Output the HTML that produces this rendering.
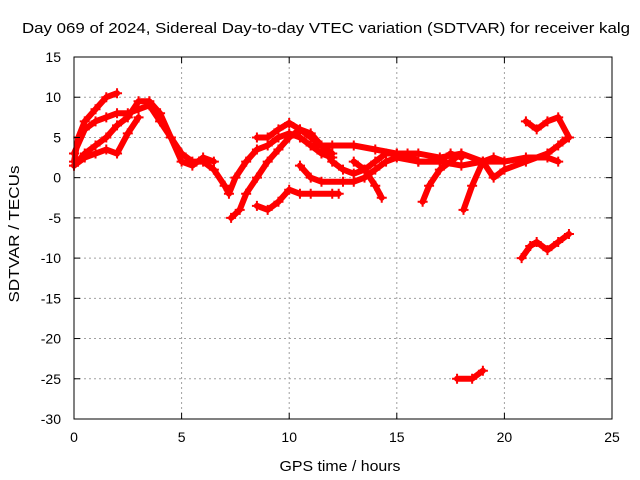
<!DOCTYPE html>
<html><head><meta charset="utf-8"><style>
body{margin:0;background:#fff}
svg{display:block;font-family:"Liberation Sans",sans-serif}
</style></head><body>
<svg id="chart" width="640" height="480">
<text x="326" y="33" text-anchor="middle" font-size="15" textLength="608" lengthAdjust="spacingAndGlyphs">Day 069 of 2024, Sidereal Day-to-day VTEC variation (SDTVAR) for receiver kalg</text>
<text x="340" y="471" text-anchor="middle" font-size="15" textLength="121" lengthAdjust="spacingAndGlyphs">GPS time / hours</text>
<text transform="translate(19,234) rotate(-90)" text-anchor="middle" font-size="15" textLength="137" lengthAdjust="spacingAndGlyphs">SDTVAR / TECUs</text>
<g id="grid"></g><g id="series"></g><g id="axes"></g>
</svg>
<script>
const xTicks=[0,5,10,15,20,25];
const yTicks=[15,10,5,0,-5,-10,-15,-20,-25,-30];
const traceA=[[0,2],[0.2,5],[0.5,7],[1,8.5],[1.5,10],[2,10.5]];
const traceB=[[0,1.5],[0.5,3],[1,4],[1.5,5],[2,6.5],[2.5,7.5],[3,9.5],[3.5,9.5],[4,8],[4.5,5],[5,3],[5.5,2],[6,2],[6.5,1],[7,-1],[7.2,-2],[7.5,0],[8,2],[8.5,3.5],[9,4],[9.5,5],[10,5.5],[10.5,5],[11,4],[11.5,3],[12,2.5]];
const traceC=[[0,3],[0.5,6],[1,7],[1.5,7.5],[2,8],[2.5,8],[3,8.5],[3.5,9],[4,7],[4.5,5],[5,2],[5.5,1.5],[6,2.5],[6.5,2]];
const traceC2=[[0,1.5],[0.5,2.5],[1,3],[1.5,3.5],[2,3],[2.5,5.5],[3,7.5]];
const traceD=[[7.3,-5],[7.7,-4],[8,-2],[8.5,0],[9,2],[9.5,3.5],[10,5],[10.5,6],[11,5],[11.5,4],[12,3]];
const traceE=[[8.5,-3.5],[9,-4],[9.5,-3],[10,-1.5],[10.5,-2],[11,-2],[12,-2],[12.3,-2]];
const traceF=[[8.5,5],[9,5],[9.5,6],[10,6.8],[10.5,6],[11,5.5],[11.5,4],[12,2],[12.5,1],[13,0.5],[13.5,1],[14,2],[14.5,3],[15,3],[15.5,3],[16,2],[17,2],[17.5,3],[18,2.5]];
const traceG=[[10.5,1.5],[11,0],[11.5,-0.5],[12.5,-0.5],[13,-0.5],[13.5,0],[14,1],[14.5,2],[15,2.5],[16,2],[17,2],[18,1.5],[19,2],[20,2],[21,2.5],[22,2.5],[22.5,2]];
const traceH=[[11,4],[12,4],[13,4],[14,3.5],[15,3],[16,3],[17,2.5],[18,3],[19,2],[19.5,0],[20,1],[21,2],[22,3],[22.5,4],[23,5]];
const traceI=[[13,2],[13.5,1],[14,-1],[14.3,-2.5]];
const traceJ=[[16.2,-3],[16.5,-1],[17,1],[17.5,2],[18,3]];
const traceK=[[18.1,-4],[18.5,-1],[19,2],[19.5,2.5],[20,2]];
const traceL=[[21,7],[21.5,6],[22,7],[22.5,7.5],[23,5],[22.7,4.5]];
const traceM=[[20.8,-10],[21.2,-8.5],[21.5,-8],[22,-9],[22.5,-8],[23,-7]];
const traceN=[[17.8,-25],[18.5,-25],[19,-24]];
const traces=[traceA,traceB,traceC,traceC2,traceD,traceE,traceF,traceG,traceH,traceI,traceJ,traceK,traceL,traceM,traceN];
const L=74,R=612,T=57,B=419;
const X=v=>L+(v-0)/(25-0)*(R-L);
const Y=v=>T+(15-v)/(15+30)*(B-T);
const NS="http://www.w3.org/2000/svg";
function mk(tag,p,attrs){const e=document.createElementNS(NS,tag);for(const k in attrs)e.setAttribute(k,attrs[k]);p.appendChild(e);return e;}
const grid=document.getElementById('grid'),axes=document.getElementById('axes'),ser=document.getElementById('series');
xTicks.forEach(t=>{
 if(t>0&&t<25){const g=mk('line',grid,{x1:X(t),x2:X(t),y1:T,y2:B,stroke:'#a0a0a0','stroke-dasharray':'2,3'});
 
 }
 mk('line',axes,{x1:X(t),x2:X(t),y1:B,y2:B-6,stroke:'#000'});
 mk('line',axes,{x1:X(t),x2:X(t),y1:T,y2:T+6,stroke:'#000'});
 const tx=mk('text',axes,{x:X(t),y:B+23,'text-anchor':'middle','font-size':14});tx.textContent=t;
 
 
});
yTicks.forEach(t=>{
 if(t<15&&t>-30){const g=mk('line',grid,{x1:L,x2:R,y1:Y(t),y2:Y(t),stroke:'#a0a0a0','stroke-dasharray':'2,3'});
 
 }
 mk('line',axes,{x1:L,x2:L+6,y1:Y(t),y2:Y(t),stroke:'#000'});
 mk('line',axes,{x1:R,x2:R-6,y1:Y(t),y2:Y(t),stroke:'#000'});
 const tx=mk('text',axes,{x:L-13,y:Y(t)+5,'text-anchor':'end','font-size':14});tx.textContent=t;
 
 
});
const fr=mk('rect',axes,{x:L,y:T,width:R-L,height:B-T,fill:'none',stroke:'#000'});


traces.forEach(tr=>{
 const pl=mk('polyline',ser,{points:tr.map(p=>X(p[0])+','+Y(p[1])).join(' '),fill:'none',stroke:'#ff0000','stroke-width':6,'stroke-linejoin':'round','stroke-linecap':'round'});
 
 
 tr.forEach(p=>{const x=X(p[0]),y=Y(p[1]);
  mk('path',ser,{d:`M${x-5},${y}H${x+5}M${x},${y-5}V${y+5}`,stroke:'#ff0000','stroke-width':2});});
});
</script>
</body></html>
